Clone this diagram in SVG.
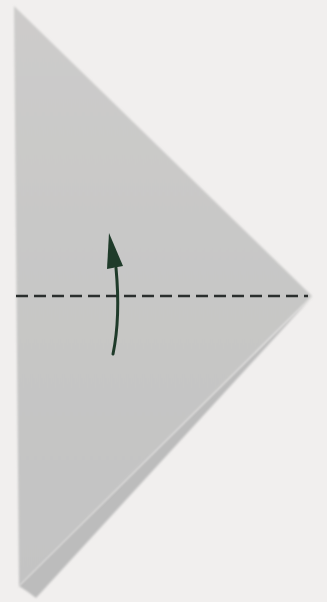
<svg xmlns="http://www.w3.org/2000/svg" width="327" height="602" viewBox="0 0 327 602">
  <style>
    .fold { stroke: #2b2f2e; stroke-width: 2.4; stroke-dasharray: 12 6; fill: none; }
    .arrow { stroke: #1f3b2a; stroke-width: 3; fill: none; stroke-linecap: round; }
    .arrowhead { fill: #1f3b2a; }
  </style>
  <defs>
    <linearGradient id="paper" x1="0" y1="0" x2="0" y2="1">
      <stop offset="0" stop-color="#cdcccb"/>
      <stop offset="0.5" stop-color="#c7c7c6"/>
      <stop offset="1" stop-color="#c3c3c3"/>
    </linearGradient>
    <filter id="soft" x="-5%" y="-5%" width="110%" height="110%">
      <feGaussianBlur stdDeviation="1.2"/>
    </filter>
  </defs>
  <rect x="0" y="0" width="327" height="602" fill="#f1efee"/>
  <g id="back-layer" filter="url(#soft)">
    <polygon points="313,296 36,598 28,592 19,586" fill="#bcbcbc"/>
  </g>
  <g id="paper-triangle" filter="url(#soft)">
    <polygon points="14,6 312,296 19,586" fill="url(#paper)"/>
  </g>
  <g id="connectors">
    <line class="fold" x1="16" y1="296" x2="308" y2="296"/>
    <path class="arrow" d="M113,354 C118,330 119,300 116,268"/>
    <polygon class="arrowhead" points="109,233 123,266 107,269"/>
  </g>
</svg>
